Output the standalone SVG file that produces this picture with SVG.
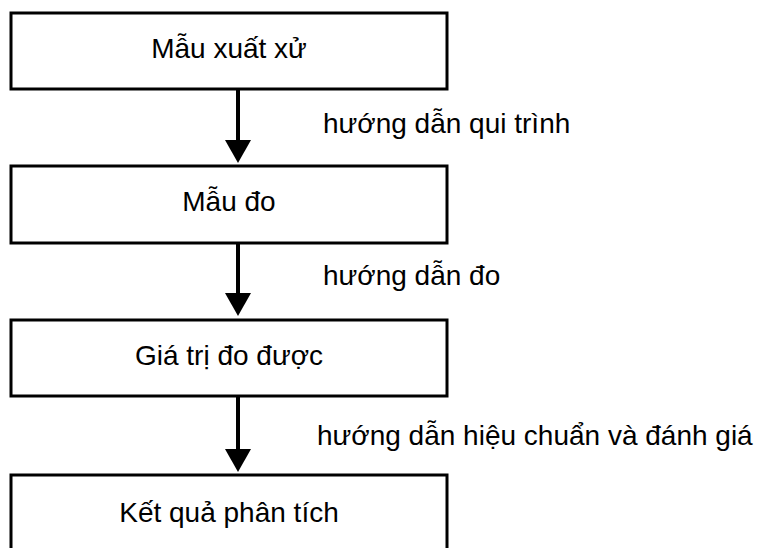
<svg xmlns="http://www.w3.org/2000/svg" width="760" height="548" viewBox="0 0 760 548">
<style>
.box{fill:#fff;stroke:#000;stroke-width:3}
.t{font-family:"Liberation Sans",Arial,sans-serif;font-size:28px;fill:#000}
.c{text-anchor:middle}
.ln{stroke:#000;stroke-width:4;fill:none}
.hd{fill:#000}
</style>
<rect width="760" height="548" fill="#fff"/>
<g id="connectors">
<line class="ln" x1="238" y1="89" x2="238" y2="142"/>
<polygon class="hd" points="225,140 251,140 238,163"/>
<line class="ln" x1="238" y1="243" x2="238" y2="295"/>
<polygon class="hd" points="225,293 251,293 238,316"/>
<line class="ln" x1="238" y1="396" x2="238" y2="451"/>
<polygon class="hd" points="225,449 251,449 238,472"/>
<text class="t" x="323" y="133">hướng dẫn qui trình</text>
<text class="t" x="323" y="285">hướng dẫn đo</text>
<text class="t" x="317" y="445">hướng dẫn hiệu chuẩn và đánh giá</text>
</g>
<g id="n1"><rect class="box" x="11" y="13" width="436" height="76"/><text class="t c" x="229" y="57.5">Mẫu xuất xử</text></g>
<g id="n2"><rect class="box" x="11" y="166" width="436" height="77"/><text class="t c" x="229" y="211">Mẫu đo</text></g>
<g id="n3"><rect class="box" x="11" y="320" width="436" height="76"/><text class="t c" x="229" y="365">Giá trị đo được</text></g>
<g id="n4"><rect class="box" x="11" y="475" width="436" height="80"/><text class="t c" x="229" y="521.5">Kết quả phân tích</text></g>
</svg>
